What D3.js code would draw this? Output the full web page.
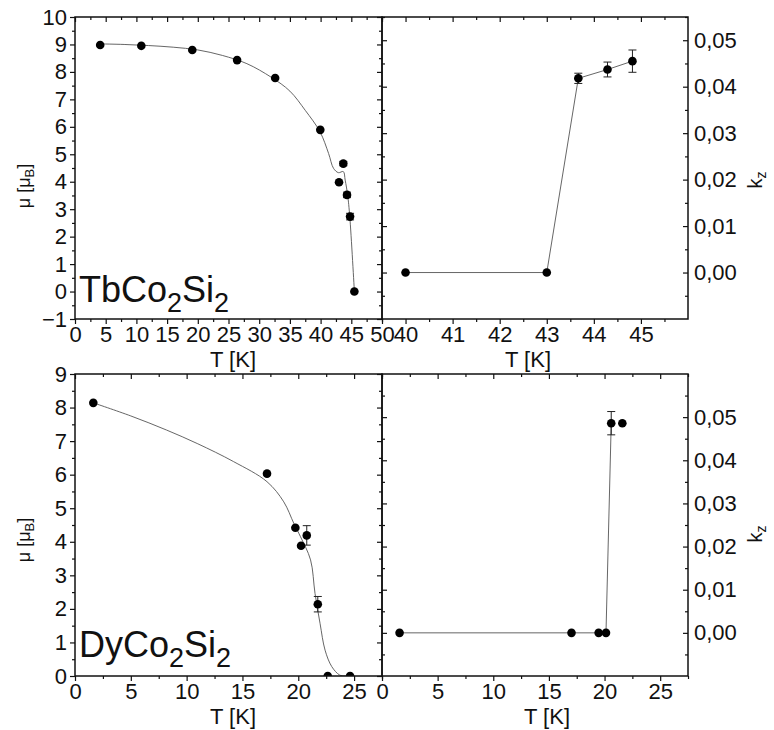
<!DOCTYPE html>
<html><head><meta charset="utf-8">
<script src="https://cdn.jsdelivr.net/npm/d3@7"></script>
<style>
body{margin:0;background:#fff}
text{font-family:"Liberation Sans",Arial,sans-serif;fill:#111}
</style></head>
<body><svg id="c" width="774" height="730"></svg>
<script>
// ---------- data ----------
// TbCo2Si2 : magnetic moment
const tbT     = [4.1, 10.8, 19.1, 26.4, 32.6, 39.95, 43.0, 43.7, 44.3, 44.8, 45.5];
const tbMu    = [8.98, 8.95, 8.80, 8.43, 7.78, 5.89, 3.98, 4.66, 3.52, 2.73, 0.0];
const tbMuErr = [0, 0, 0, 0, 0, 0, 0, 0.08, 0.1, 0.12, 0];
const tbFitT  = [4.1, 8, 12, 16, 20, 24, 28, 32, 35, 37.5, 39.9, 41.3, 42.1, 42.9, 43.7, 44.0, 44.4, 44.75, 45.5];
const tbFitMu = [9.02, 9.0, 8.96, 8.9, 8.8, 8.6, 8.3, 7.8, 7.3, 6.6, 5.82, 5.03, 4.49, 4.33, 4.37, 4.06, 3.52, 2.73, 0.0];
// TbCo2Si2 : kz
const tbKT    = [40, 43, 43.67, 44.29, 44.82];
const tbK     = [0, 0, 0.0418, 0.0437, 0.0455];
const tbKErr  = [0, 0, 0.0011, 0.0016, 0.0024];
// DyCo2Si2 : magnetic moment
const dyT     = [1.64, 17.2, 19.74, 20.25, 20.76, 21.75, 22.64, 24.64];
const dyMu    = [8.14, 6.03, 4.42, 3.88, 4.19, 2.14, 0, 0];
const dyMuErr = [0, 0, 0, 0, 0.29, 0.23, 0, 0];
const dyFitT  = [1.64, 5, 8.2, 11, 14.2, 17.2, 18.7, 19.6, 20.2, 21.1, 21.5, 21.95, 22.4, 23.0, 23.7, 24.2, 25];
const dyFitMu = [8.14, 7.75, 7.33, 6.92, 6.39, 5.79, 5.19, 4.55, 4.15, 3.46, 2.46, 1.57, 0.77, 0.28, 0.03, 0, 0];
// DyCo2Si2 : kz
const dyKT    = [1.58, 17.03, 19.47, 20.13, 20.6, 21.6];
const dyK     = [0, 0, 0, 0, 0.0486, 0.0486];
const dyKErr  = [0, 0, 0, 0, 0.0027, 0];
const dyKLineCount = 5;
// ticks
const tbMuXTicks = [0,5,10,15,20,25,30,35,40,45,50];
const tbMuYTicks = [-1,0,1,2,3,4,5,6,7,8,9,10];
const tbKXTicks  = [40,41,42,43,44,45];
const kzTicks    = [0,0.01,0.02,0.03,0.04,0.05];
const dyXTicks   = [0,5,10,15,20,25];
const dyMuYTicks = [0,1,2,3,4,5,6,7,8,9];

// ---------- drawing ----------
const svg = d3.select("#c");
const loc = d3.formatLocale({decimal:",",thousands:".",grouping:[3],currency:["",""]});
const fK = loc.format(".2f");
const FS = 22;

function range(a,b,s){const r=[];for(let v=a;v<=b+1e-9;v+=s)r.push(+v.toFixed(6));return r;}

function panel(o){
  const g = svg.append("g");
  const x = d3.scaleLinear().domain(o.xd).range([o.x0,o.x1]);
  const y = d3.scaleLinear().domain(o.yd).range([o.y1,o.y0]);
  const id = "clip"+Math.random().toString(36).slice(2);
  svg.append("clipPath").attr("id",id).append("rect")
     .attr("x",o.x0).attr("y",o.y0).attr("width",o.x1-o.x0).attr("height",o.y1-o.y0);
  const plot = g.append("g").attr("clip-path","url(#"+id+")");
  const line = d3.line().x(d=>x(d[0])).y(d=>y(d[1]));
  if(o.curve) line.curve(o.curve);
  plot.append("path").datum(o.line).attr("d",line)
     .attr("fill","none").attr("stroke","#555").attr("stroke-width",0.9);
  o.pts.forEach(p=>{
    if(p[2]>0){
      const cx=x(p[0]), ya=y(p[1]+p[2]), yb=y(p[1]-p[2]);
      plot.append("path").attr("d",`M${cx},${ya}V${yb}M${cx-4},${ya}H${cx+4}M${cx-4},${yb}H${cx+4}`)
        .attr("stroke","#222").attr("stroke-width",1).attr("fill","none");
    }
  });
  plot.selectAll("circle.d").data(o.pts).join("circle")
     .attr("cx",d=>x(d[0])).attr("cy",d=>y(d[1])).attr("r",4.3).attr("fill","#000");

  const ax = (gen, tx, ty)=>{
    const a = g.append("g").attr("transform",`translate(${tx},${ty})`).call(gen);
    a.select(".domain").remove();
    a.selectAll("line").attr("stroke","#111").attr("stroke-width",1.2);
    a.selectAll("text").style("font-size",FS+"px").attr("fill","#111");
    return a;
  };
  const xmin = o.xMinor, ymin = o.yMinor;
  ax(d3.axisBottom(x).tickValues(o.xt).tickSize(5).tickPadding(2).tickFormat(d3.format("d")),0,o.y1);
  ax(d3.axisBottom(x).tickValues(xmin).tickSize(3).tickFormat(""),0,o.y1);
  ax(d3.axisTop(x).tickValues(o.xt).tickSize(-5).tickFormat(""),0,o.y0);
  ax(d3.axisTop(x).tickValues(xmin).tickSize(-3).tickFormat(""),0,o.y0);
  if(o.side==="left"){
    ax(d3.axisLeft(y).tickValues(o.yt).tickSize(5).tickPadding(3).tickFormat(d3.format("d")),o.x0,0);
    ax(d3.axisLeft(y).tickValues(ymin).tickSize(3).tickFormat(""),o.x0,0);
    ax(d3.axisRight(y).tickValues(o.yt).tickSize(-5).tickFormat(""),o.x1,0);
    ax(d3.axisRight(y).tickValues(ymin).tickSize(-3).tickFormat(""),o.x1,0);
  } else {
    ax(d3.axisRight(y).tickValues(o.yt).tickSize(-5).tickPadding(6).tickFormat(fK),o.x1,0);
    ax(d3.axisRight(y).tickValues(ymin).tickSize(-3).tickFormat(""),o.x1,0);
    ax(d3.axisLeft(y).tickValues(o.yt).tickSize(-5).tickFormat(""),o.x0,0);
    ax(d3.axisLeft(y).tickValues(ymin).tickSize(-3).tickFormat(""),o.x0,0);
  }
  g.append("rect").attr("x",o.x0).attr("y",o.y0).attr("width",o.x1-o.x0).attr("height",o.y1-o.y0)
    .attr("fill","none").attr("stroke","#111").attr("stroke-width",1.5);
  g.append("text").attr("x",o.tx).attr("y",o.y1+48).attr("text-anchor","middle")
    .style("font-size","22px").text("T [K]");
  return {x,y};
}

function zip(a,b,c){return a.map((v,i)=>[v,b[i],c?c[i]:0]);}

const L0=75, L1=382, R1=688, T0=17, T1=319, B0=374, B1=676;

panel({x0:L0,x1:L1,y0:T0,y1:T1,xd:[0,50],yd:[-1,10],xt:tbMuXTicks,yt:tbMuYTicks,
  xMinor:range(2.5,47.5,5),yMinor:range(-0.5,9.5,1),side:"left",
  pts:zip(tbT,tbMu,tbMuErr),line:zip(tbFitT,tbFitMu),curve:d3.curveCatmullRom,tx:233});
panel({x0:L1,x1:R1,y0:T0,y1:T1,xd:[39.5,46],yd:[-0.01,0.055],xt:tbKXTicks,yt:kzTicks,
  xMinor:range(39.5,45.5,1),yMinor:range(-0.005,0.055,0.01),side:"right",
  pts:zip(tbKT,tbK,tbKErr),line:zip(tbKT,tbK),tx:528});
panel({x0:L0,x1:L1,y0:B0,y1:B1,xd:[0,27.5],yd:[0,9],xt:dyXTicks,yt:dyMuYTicks,
  xMinor:range(2.5,27.5,5),yMinor:range(0.5,8.5,1),side:"left",
  pts:zip(dyT,dyMu,dyMuErr),line:zip(dyFitT,dyFitMu),curve:d3.curveCatmullRom,tx:233});
panel({x0:L1,x1:R1,y0:B0,y1:B1,xd:[0,27.5],yd:[-0.01,0.06],xt:dyXTicks,yt:kzTicks,
  xMinor:range(2.5,27.5,5),yMinor:range(-0.005,0.055,0.01),side:"right",
  pts:zip(dyKT,dyK,dyKErr),line:zip(dyKT.slice(0,dyKLineCount),dyK.slice(0,dyKLineCount)),tx:547});

function muTitle(cx,cy){
  const t=svg.append("text").attr("transform",`translate(${cx},${cy}) rotate(-90)`)
    .attr("text-anchor","middle").style("font-size","18px");
  t.append("tspan").text("\u03BC [\u03BC");
  t.append("tspan").attr("dy",4).style("font-size","13px").text("B");
  t.append("tspan").attr("dy",-4).text("]");
}
muTitle(30,186); muTitle(30,540);
function kTitle(cx,cy){
  const t=svg.append("text").attr("transform",`translate(${cx},${cy}) rotate(-90)`)
    .attr("text-anchor","middle").style("font-size","20px");
  t.append("tspan").text("k");
  t.append("tspan").attr("dy",4).style("font-size","14px").text("z");
}
kTitle(762,180); kTitle(762,534);

function compound(xp,yp,parts){
  const t=svg.append("text").attr("x",xp).attr("y",yp).style("font-size","36px");
  parts.forEach(p=>{
    if(p.sub){ t.append("tspan").attr("dy",10).style("font-size","27px").text(p.s); }
    else { t.append("tspan").attr("dy",p.after?-10:0).text(p.s); }
  });
}
compound(79,302,[{s:"TbCo"},{s:"2",sub:true},{s:"Si",after:true},{s:"2",sub:true}]);
compound(79,657,[{s:"DyCo"},{s:"2",sub:true},{s:"Si",after:true},{s:"2",sub:true}]);
</script></body></html>
